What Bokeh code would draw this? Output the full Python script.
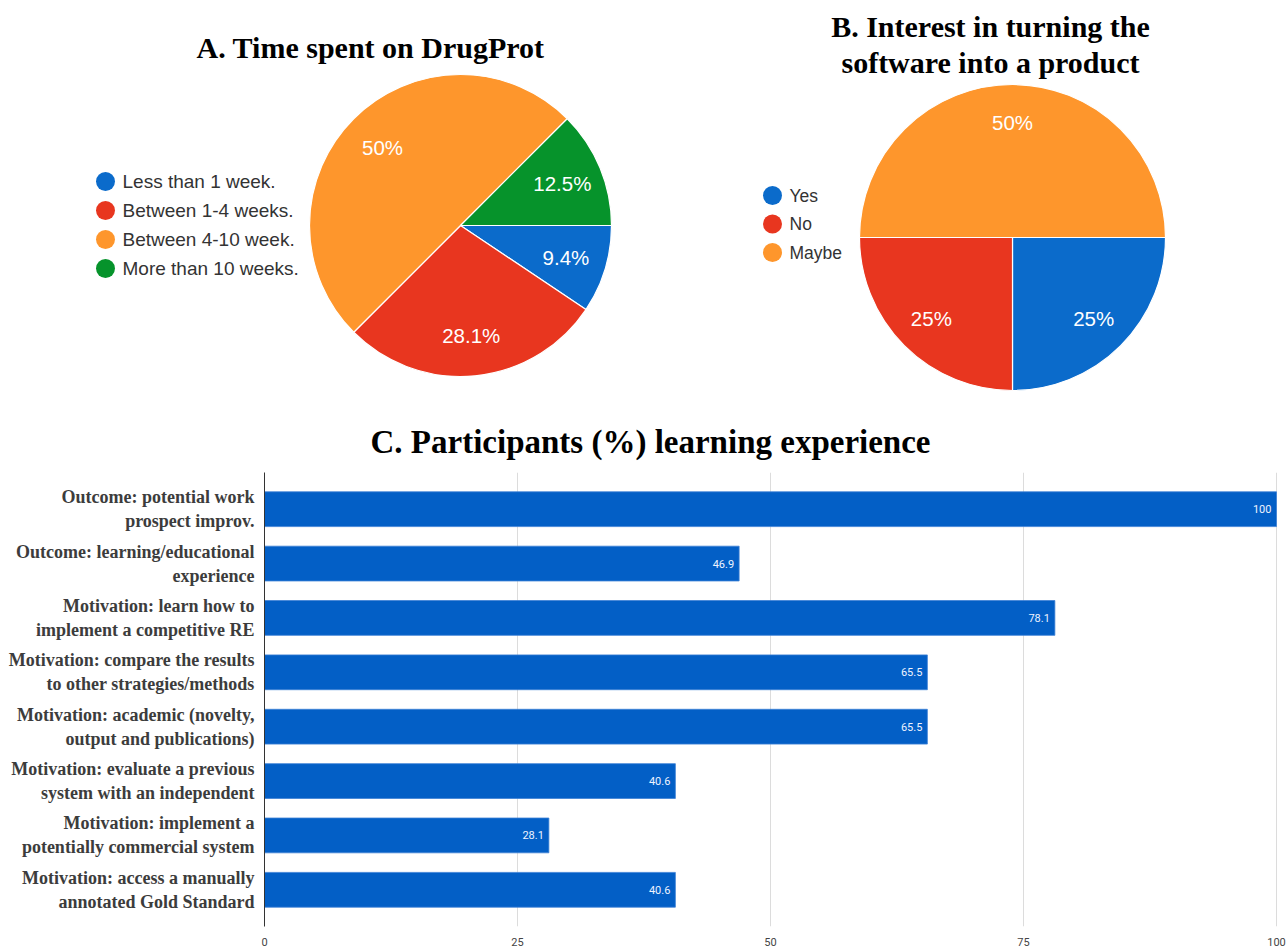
import numpy as np
from bokeh.plotting import figure
from bokeh.models import Range1d, FixedTicker
from bokeh.core.properties import value
from bokeh.embed import file_html
from bokeh.resources import INLINE

# ---------------- data ----------------
titles = ["A. Time spent on DrugProt",
          "B. Interest in turning the\nsoftware into a product",
          "C. Participants (%) learning experience"]

time_labels = ["Less than 1 week.", "Between 1-4 weeks.", "Between 4-10 week.", "More than 10 weeks."]
time_values = [9.4, 28.1, 50.0, 12.5]
time_colors = ["#0b6bcb", "#e8361f", "#fe962c", "#06932b"]

prod_labels = ["Yes", "No", "Maybe"]
prod_values = [25.0, 25.0, 50.0]
prod_colors = ["#0b6bcb", "#e8361f", "#fe962c"]

bar_labels = ["Outcome: potential work\nprospect improv.",
              "Outcome: learning/educational\nexperience",
              "Motivation: learn how to\nimplement a competitive RE",
              "Motivation: compare the results\nto other strategies/methods",
              "Motivation: academic (novelty,\noutput and publications)",
              "Motivation: evaluate a previous\nsystem with an independent",
              "Motivation: implement a\npotentially commercial system",
              "Motivation: access a manually\nannotated Gold Standard"]
bar_values = [100, 46.9, 78.1, 65.5, 65.5, 40.6, 28.1, 40.6]
x_ticks = [0, 25, 50, 75, 100]

SANS = value("Liberation Sans")
SERIF = value("Liberation Serif")

W = 1286
TOP_H = 462
BAR_H = 486

# ---------------- top figure (pies + titles) ----------------
top = figure(width=W, height=TOP_H, x_range=Range1d(0, W), y_range=Range1d(-TOP_H, 0),
             x_axis_type=None, y_axis_type=None, toolbar_location=None,
             output_backend="svg", min_border=0, outline_line_color=None)
top.grid.visible = False


def draw_pie(p, cx, cy, r, vals, colors, k):
    v = np.array(vals, dtype=float)
    frac = v / v.sum()
    end = np.cumsum(frac)
    start = end - frac
    p.wedge(x=cx, y=cy, radius=r,
            start_angle=-2 * np.pi * end, end_angle=-2 * np.pi * start,
            fill_color=colors, line_color="white", line_width=1.2)
    mid = -2 * np.pi * (start + end) / 2
    lx = cx + k * r * np.cos(mid)
    ly = cy + k * r * np.sin(mid)
    txt = [f"{x:g}%" for x in v]
    p.text(x=lx, y=ly, text=txt, text_color="white", text_font=SANS,
           text_font_size="20.5px", text_align="center", text_baseline="middle")


def draw_legend(p, x0, y0, dy, labels, colors, size):
    ys = [y0 - i * dy for i in range(len(labels))]
    p.scatter(x=[x0] * len(labels), y=ys, marker="circle", size=19,
              fill_color=colors, line_color=None)
    p.text(x=[x0 + 17] * len(labels), y=ys, text=labels, text_color="#333333",
           text_font=SANS, text_font_size=size, text_align="left", text_baseline="middle")


draw_pie(top, 460, -225, 151, time_values, time_colors, 0.73)
draw_pie(top, 1012, -237, 153, prod_values, prod_colors, 0.75)
draw_legend(top, 105, -181, 29, time_labels, time_colors, "19px")
draw_legend(top, 772, -195, 28.5, prod_labels, prod_colors, "17.5px")

top.text(x=[370], y=[-47], text=[titles[0]], text_font=SERIF, text_font_style="bold",
         text_font_size="30px", text_color="black", text_align="center", text_baseline="middle")
top.text(x=[990], y=[-44], text=[titles[1]], text_font=SERIF, text_font_style="bold",
         text_font_size="30px", text_color="black", text_align="center", text_baseline="middle",
         text_line_height=1.1)
top.text(x=[650], y=[-441], text=[titles[2]], text_font=SERIF, text_font_style="bold",
         text_font_size="33px", text_color="black", text_align="center", text_baseline="middle")

# ---------------- bar chart ----------------
n = len(bar_values)
ys = list(range(n - 1, -1, -1))
pad = 0.175
bars = figure(width=W, height=BAR_H, x_range=Range1d(0, 100.1),
              y_range=Range1d(-0.5 - pad, n - 0.5 + pad),
              toolbar_location=None, output_backend="svg",
              min_border_left=264, min_border_right=9, min_border_top=10, min_border_bottom=18,
              outline_line_color=None)
bars.hbar(y=ys, right=bar_values, left=0, height=0.64, fill_color="#035fc6",
          line_color="#3c80d6", line_width=0.8)
bars.text(x=bar_values, y=ys, text=[f"{v:g}" for v in bar_values], x_offset=-5,
          text_color="#eef3ff", text_font=value("Roboto"), text_font_size="11px",
          text_align="right", text_baseline="middle")

bars.ygrid.visible = False
bars.xgrid.grid_line_color = "#dcdcdc"
bars.xgrid.grid_line_width = 1
bars.xaxis.ticker = FixedTicker(ticks=x_ticks)
bars.xaxis.axis_line_color = None
bars.xaxis.major_tick_line_color = None
bars.xaxis.minor_tick_line_color = None
bars.xaxis.major_label_standoff = 5
bars.xaxis.major_label_text_font = "Roboto"
bars.xaxis.major_label_text_font_size = "11px"
bars.xaxis.major_label_text_color = "#444444"

bars.yaxis.ticker = FixedTicker(ticks=ys)
bars.yaxis.major_label_overrides = {y: lab for y, lab in zip(ys, bar_labels)}
bars.yaxis.axis_line_color = "#333333"
bars.yaxis.major_tick_line_color = None
bars.yaxis.minor_tick_line_color = None
bars.yaxis.major_label_standoff = 4
bars.yaxis.major_label_text_font = "Liberation Serif"
bars.yaxis.major_label_text_font_style = "bold"
bars.yaxis.major_label_text_font_size = "18px"
bars.yaxis.major_label_text_color = "#3c3c3c"
bars.yaxis.major_label_text_line_height = 1.2

open("out.html", "w").write(file_html([top, bars], INLINE))
